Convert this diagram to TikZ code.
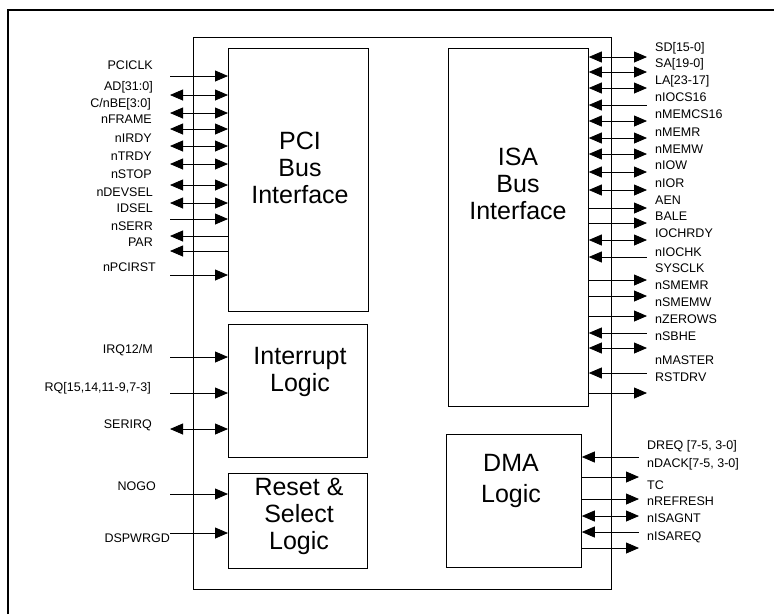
\documentclass[tikz,border=0pt]{standalone}
\usepackage{fontspec}
\setmainfont{Liberation Sans}
\usetikzlibrary{arrows.meta}

\tikzset{
  block/.style={draw, line width=0.8pt, inner sep=0pt, anchor=north west},
  blocktext/.style={font=\fontsize{25}{27}\selectfont, align=center, inner sep=0pt},
  siglabel/.style={font=\fontsize{12.5}{14}\selectfont, inner sep=0pt},
  wire/.style={line width=0.8pt},
  sigin/.style={wire, {Triangle[length=13pt,width=11pt]}-},
  sigout/.style={wire, -{Triangle[length=13pt,width=11pt]}},
  sigbi/.style={wire, {Triangle[length=13pt,width=11pt]}-{Triangle[length=13pt,width=11pt]}},
}

% left-hand signal: box, id, text, label x, label y, wire y, direction style
\newcommand\sigL[7]{%
  \node[siglabel, anchor=base east, yshift=-4.3pt] (#2-lbl) at (#4,#5) {#3};
  \coordinate (#2) at (170,#6);
  \draw[#7] (#1.west |- #2) -- (#2);
}
% right-hand signal: box, id, text, wire end x, label x, label y, wire y, direction style
\newcommand\sigR[8]{%
  \node[siglabel, anchor=base west, yshift=-4.3pt] (#2-lbl) at (#5,#6) {#3};
  \coordinate (#2) at (#4,#7);
  \draw[#8] (#1.east |- #2) -- (#2);
}

\begin{document}
\begin{tikzpicture}[x=1pt,y=-1pt]
\useasboundingbox (0,0) rectangle (774,614);

% page frame
\draw[line width=2pt] (8,614) -- (8,9.5) -- (774,9.5);

% chip outline and functional blocks
\node[block, minimum width=418pt, minimum height=552pt] (chip) at (193,37) {};
\node[block, minimum width=140pt, minimum height=263pt] (pci) at (228,48) {};
\node[block, minimum width=139pt, minimum height=133pt] (irq) at (228,324) {};
\node[block, minimum width=139pt, minimum height=95pt]  (rst) at (228,473) {};
\node[block, minimum width=140pt, minimum height=358pt] (isa) at (448,48) {};
\node[block, minimum width=135pt, minimum height=133pt] (dma) at (446,434) {};

\node[blocktext] (pci-t) at (300,168) {PCI\\Bus\\Interface};
\node[blocktext] (irq-t) at (300,372) {Interrupt\\Logic};
\node[blocktext] (rst-t) at (299,516) {Reset \&\\Select\\Logic};
\node[blocktext] (isa-t) at (518,184) {ISA\\Bus\\Interface};
\node[blocktext, font=\fontsize{25}{31}\selectfont] (dma-t) at (511,481) {DMA\\Logic};

% PCI bus signals
\sigL{pci}{pciclk}{PCICLK}{153}{65}{76}{sigin}
\sigL{pci}{ad}{AD[31:0]}{153}{86}{95}{sigbi}
\sigL{pci}{cbe}{C/nBE[3:0]}{151}{103}{113}{sigbi}
\sigL{pci}{frame}{nFRAME}{152}{119}{129}{sigbi}
\sigL{pci}{irdy}{nIRDY}{152}{138}{146}{sigbi}
\sigL{pci}{trdy}{nTRDY}{152}{156}{164}{sigbi}
\sigL{pci}{stop}{nSTOP}{152}{174}{185}{sigbi}
\sigL{pci}{devsel}{nDEVSEL}{153}{192}{203}{sigbi}
\sigL{pci}{idsel}{IDSEL}{153}{208}{219}{sigin}
\sigL{pci}{serr}{nSERR}{153}{226}{236}{sigout}
\sigL{pci}{par}{PAR}{153}{242}{251}{sigout}
\sigL{pci}{pcirst}{nPCIRST}{156}{267}{275}{sigin}

% interrupt inputs
\sigL{irq}{irq12}{IRQ12/M}{153}{349}{357}{sigin}
\sigL{irq}{irqs}{RQ[15,14,11-9,7-3]}{151}{387}{393}{sigin}
\sigL{irq}{serirq}{SERIRQ}{152}{424}{429}{sigbi}

% reset and select inputs
\sigL{rst}{nogo}{NOGO}{156}{486}{494}{sigin}
\sigL{rst}{pwrgd}{DSPWRGD}{170}{538}{533}{sigin}

% ISA bus signals
\sigR{isa}{sd}{SD[15-0]}{647}{655}{47}{57}{sigbi}
\sigR{isa}{sa}{SA[19-0]}{647}{655}{63}{72}{sigbi}
\sigR{isa}{la}{LA[23-17]}{647}{655}{80}{88}{sigbi}
\sigR{isa}{iocs}{nIOCS16}{647}{655}{97}{105}{sigin}
\sigR{isa}{memcs}{nMEMCS16}{647}{655}{114}{121}{sigbi}
\sigR{isa}{memr}{nMEMR}{647}{655}{132}{138}{sigbi}
\sigR{isa}{memw}{nMEMW}{647}{655}{149}{154}{sigbi}
\sigR{isa}{iow}{nIOW}{647}{655}{165}{172}{sigbi}
\sigR{isa}{ior}{nIOR}{647}{655}{183}{190}{sigbi}
\sigR{isa}{aen}{AEN}{647}{655}{200}{208}{sigout}
\sigR{isa}{bale}{BALE}{647}{655}{216}{223}{sigout}
\sigR{isa}{iochrdy}{IOCHRDY}{647}{655}{233}{240}{sigbi}
\sigR{isa}{iochk}{nIOCHK}{647}{655}{252}{257}{sigin}
\sigR{isa}{sysclk}{SYSCLK}{647}{655}{268}{280}{sigout}
\sigR{isa}{smemr}{nSMEMR}{647}{655}{285}{296}{sigout}
\sigR{isa}{smemw}{nSMEMW}{647}{655}{302}{316}{sigout}
\sigR{isa}{zerows}{nZEROWS}{647}{655}{319}{333}{sigin}
\sigR{isa}{sbhe}{nSBHE}{647}{655}{336}{348}{sigbi}
\sigR{isa}{master}{nMASTER}{647}{655}{360}{373}{sigin}
\sigR{isa}{rstdrv}{RSTDRV}{647}{655}{377}{393}{sigout}

% DMA signals
\sigR{dma}{dreq}{DREQ [7-5, 3-0]}{639}{647}{445}{457}{sigin}
\sigR{dma}{dack}{nDACK[7-5, 3-0]}{639}{647}{463}{477}{sigout}
\sigR{dma}{tc}{TC}{639}{647}{485}{499}{sigout}
\sigR{dma}{refresh}{nREFRESH}{639}{647}{501}{516}{sigbi}
\sigR{dma}{isagnt}{nISAGNT}{639}{647}{518}{532}{sigin}
\sigR{dma}{isareq}{nISAREQ}{639}{647}{536}{548}{sigout}
\end{tikzpicture}
\end{document}
